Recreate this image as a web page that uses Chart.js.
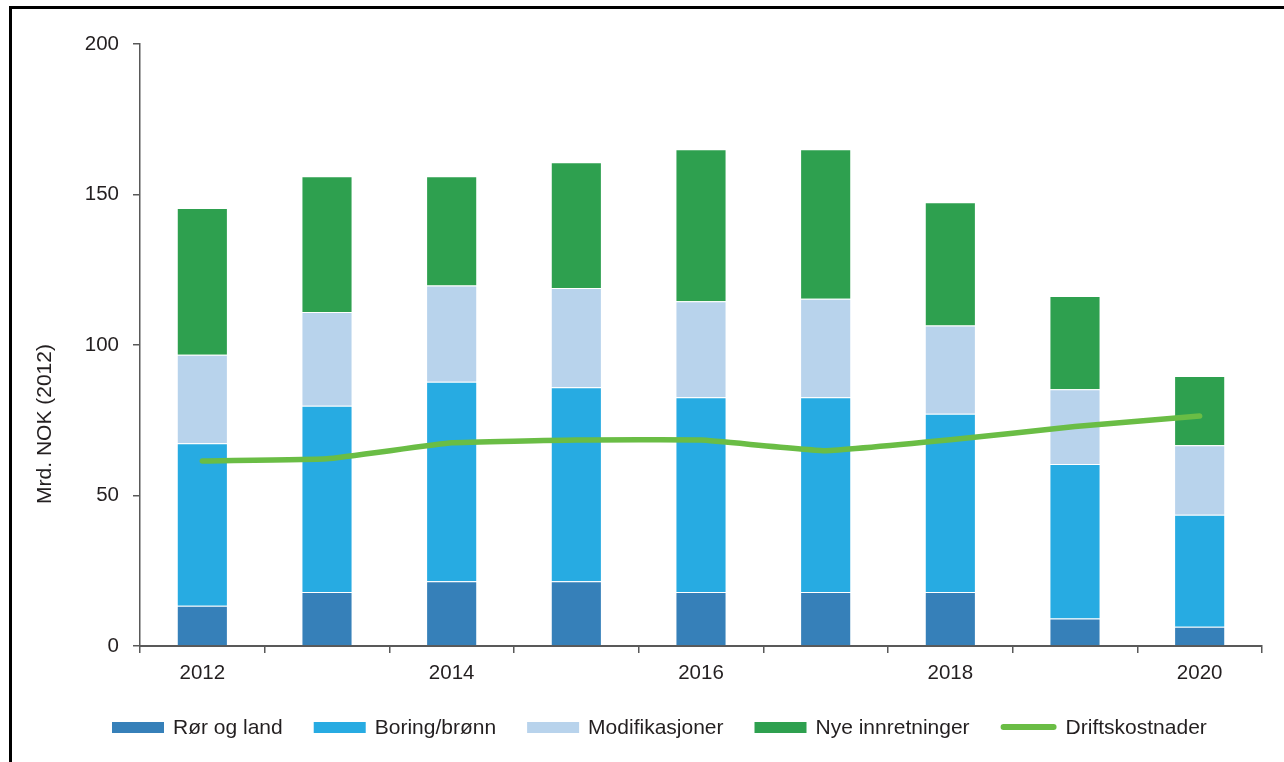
<!DOCTYPE html>
<html>
<head>
<meta charset="utf-8">
<script src="https://cdn.jsdelivr.net/npm/chart.js@4/dist/chart.umd.min.js"></script>
<style>
  html, body { margin: 0; padding: 0; background: #fff; }
  #wrap { position: relative; width: 1284px; height: 762px; overflow: hidden; }
  #frame { position: absolute; left: 9px; top: 6px; right: -10px; bottom: -10px;
           border-left: 3px solid #000; border-top: 3px solid #000; pointer-events: none; }
  canvas { position: absolute; left: 0; top: 0; }
</style>
</head>
<body>
<div id="wrap">
  <canvas id="c" width="1284" height="762"></canvas>
  <div id="frame"></div>
</div>
<script>
// Investeringer og driftskostnader, mrd. NOK (2012-kroner)
const years = ['2012', '2013', '2014', '2015', '2016', '2017', '2018', '2019', '2020'];
const rorOgLand = [13.4, 17.9, 21.5, 21.5, 17.9, 17.9, 17.9, 9.1, 6.4];
const boringBronn = [54.0, 61.9, 66.3, 64.5, 64.7, 64.7, 59.3, 51.4, 37.2];
const modifikasjoner = [29.4, 31.2, 32.0, 32.9, 31.9, 32.8, 29.3, 24.8, 23.1];
const nyeInnretninger = [48.7, 45.1, 36.3, 41.8, 50.5, 49.6, 40.9, 31.0, 23.0];
const driftskostnader = [61.5, 62.2, 67.5, 68.4, 68.4, 64.9, 68.5, 72.9, 76.4];
const yTicks = [0, 50, 100, 150, 200];

const FONT = 'Liberation Sans, Arial, Helvetica, sans-serif';
const TEXT = '#231f20';
const AXIS = '#595959';

function barSet(label, data, color) {
  return {
    type: 'bar', label, data, backgroundColor: color,
    borderColor: 'rgba(255,255,255,0.35)', borderWidth: 1,
    barPercentage: 0.41, categoryPercentage: 1, stack: 'inv', order: 2
  };
}

// Legend and rotated axis title drawn onto the canvas
const extras = {
  id: 'extras',
  afterDraw(chart) {
    const ctx = chart.ctx;
    ctx.save();
    // axis title
    ctx.fillStyle = TEXT;
    ctx.font = '21px ' + FONT;
    ctx.translate(45, 424);
    ctx.rotate(-Math.PI / 2);
    ctx.textAlign = 'center';
    ctx.textBaseline = 'middle';
    ctx.fillText('Mrd. NOK (2012)', 0, 0);
    ctx.restore();

    ctx.save();
    ctx.font = '21px ' + FONT;
    ctx.textBaseline = 'middle';
    ctx.textAlign = 'left';
    const yMid = 727;
    let x = 112;
    chart.data.datasets.forEach(ds => {
      if (ds.type === 'line') {
        ctx.strokeStyle = ds.borderColor;
        ctx.lineWidth = 6;
        ctx.lineCap = 'round';
        ctx.beginPath();
        ctx.moveTo(x + 3, yMid);
        ctx.lineTo(x + 53, yMid);
        ctx.stroke();
        x += 56 + 9;
      } else {
        ctx.fillStyle = ds.backgroundColor;
        ctx.fillRect(x, yMid - 5, 52, 11);
        x += 52 + 9;
      }
      ctx.fillStyle = TEXT;
      ctx.fillText(ds.label, x, yMid + 1);
      x += ctx.measureText(ds.label).width + 31;
    });
    ctx.restore();
  }
};

new Chart(document.getElementById('c'), {
  data: {
    labels: years,
    datasets: [
      barSet('Rør og land', rorOgLand, '#3680b9'),
      barSet('Boring/brønn', boringBronn, '#27abe2'),
      barSet('Modifikasjoner', modifikasjoner, '#b8d3ec'),
      barSet('Nye innretninger', nyeInnretninger, '#2ea04f'),
      {
        type: 'line', label: 'Driftskostnader', data: driftskostnader,
        borderColor: '#6abd45', backgroundColor: '#6abd45', borderWidth: 5.5,
        borderCapStyle: 'round', borderJoinStyle: 'round',
        pointRadius: 0, pointHoverRadius: 0, tension: 0.1,
        stack: 'drift', order: 1
      }
    ]
  },
  options: {
    responsive: false,
    animation: false,
    layout: { padding: { left: 0, right: 22, top: 44, bottom: 76 } },
    plugins: { legend: { display: false }, tooltip: { enabled: false } },
    scales: {
      x: {
        stacked: true,
        offset: true,
        afterFit: s => { s.height = 40; },
        grid: { offset: true, drawOnChartArea: false, drawTicks: true, tickLength: 7, color: AXIS, lineWidth: 1.5 },
        border: { display: true, color: AXIS, width: 2 },
        ticks: {
          autoSkip: false, maxRotation: 0, padding: 8,
          color: TEXT, font: { family: FONT, size: 20.5 },
          callback: (v, i) => (i % 2 === 0 ? years[i] : '')
        }
      },
      y: {
        stacked: true,
        min: yTicks[0], max: yTicks[yTicks.length - 1],
        afterFit: s => { s.width = 140; },
        afterBuildTicks: s => { s.ticks = yTicks.map(v => ({ value: v })); },
        grid: { drawOnChartArea: false, drawTicks: true, tickLength: 7, color: AXIS, lineWidth: 1.5 },
        border: { display: true, color: AXIS, width: 1.5 },
        ticks: { padding: 14, color: TEXT, font: { family: FONT, size: 20.5 } }
      }
    }
  },
  plugins: [extras]
});
</script>
</body>
</html>
